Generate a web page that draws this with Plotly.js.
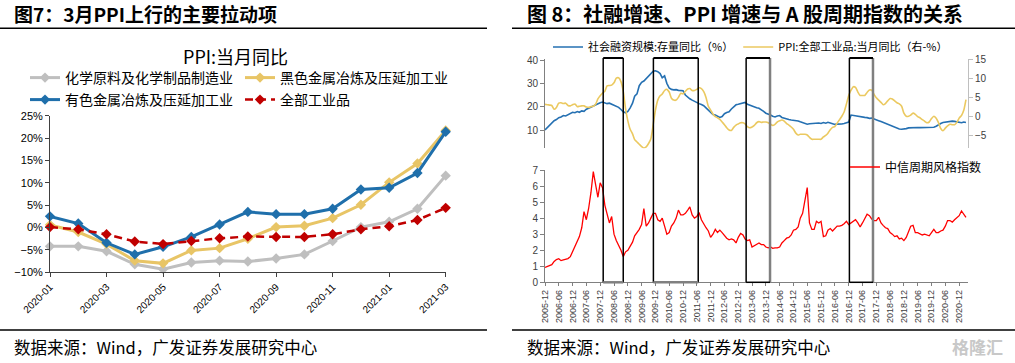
<!DOCTYPE html>
<html><head><meta charset="utf-8">
<script src="https://cdn.plot.ly/plotly-3.0.1.min.js"></script>
<style>html,body{margin:0;padding:0;background:#fff}#chart{width:1015px;height:363px}</style>
</head><body><div id="chart"></div>
<script>
// ---------- Figure 7 data ----------
const ppiMonths = ['2020-01','2020-02','2020-03','2020-04','2020-05','2020-06','2020-07','2020-08','2020-09','2020-10','2020-11','2020-12','2021-01','2021-02','2021-03'];
const leftTickLabels = ['2020-01','2020-03','2020-05','2020-07','2020-09','2020-11','2021-01','2021-03'];
const chemical   = [-4.2,-4.2,-5.3,-8.2,-9.3,-7.8,-7.4,-7.6,-6.9,-6.0,-3.0,0.1,1.3,4.2,11.6];
const ferrous    = [0.6,-1.0,-3.7,-7.4,-8.0,-5.1,-4.6,-2.5,0.1,0.4,2.1,5.1,10.1,14.3,21.7];
const nonferrous = [2.5,0.9,-3.4,-6.0,-4.3,-2.1,0.7,3.5,3.0,3.0,4.2,8.5,8.9,12.2,21.4];
const ppiAll     = [0.1,-0.4,-1.5,-3.1,-3.7,-3.0,-2.4,-2.0,-2.1,-2.1,-1.5,-0.4,0.3,1.7,4.4];

// ---------- Figure 8 data (monthly, 2005-12 .. 2021-03) ----------
const tsfGrowth = [10.0,
 11.0,12.2,13.0,14.0,14.5,15.3,15.6,16.2,16.0,16.6,17.0,17.6,
 17.4,17.9,17.6,18.2,18.0,18.9,19.3,19.8,20.4,20.9,21.4,21.7,
 22.0,21.6,21.3,21.5,21.0,20.6,20.2,19.7,18.8,17.8,17.4,18.0,
 19.5,21.5,24.5,25.5,29.0,30.4,31.0,32.0,33.0,34.2,35.2,35.4,
 35.0,34.2,32.4,33.2,30.0,28.0,27.4,27.2,27.3,27.0,27.0,26.8,
 25.0,24.0,23.4,22.8,22.2,21.8,21.3,20.9,20.4,19.5,18.6,17.8,
 16.6,16.4,16.0,15.4,15.8,17.0,17.5,17.8,19.0,19.8,20.8,21.0,
 21.2,21.6,21.8,21.0,20.6,20.0,19.6,19.5,19.3,18.8,18.0,17.2,
 16.9,16.4,15.9,15.6,16.0,16.2,15.4,15.0,14.6,14.5,14.3,14.2,
 14.0,13.9,13.5,13.1,12.7,12.5,12.7,12.8,12.7,12.9,13.0,12.8,
 13.2,12.9,13.3,13.0,12.6,12.4,12.5,12.4,12.6,12.8,13.2,13.4,
 16.4,16.2,16.0,15.7,15.5,15.6,15.4,15.3,15.0,15.1,14.8,14.6,
 14.0,13.6,13.2,12.8,12.6,12.1,11.7,11.3,10.9,10.4,10.3,10.3,
 10.6,10.9,11.0,10.9,11.0,11.1,11.0,11.0,10.9,10.9,11.0,10.9,
 11.2,11.6,12.3,12.8,13.2,13.4,13.6,13.7,13.8,13.7,13.6,13.3,
 13.1,13.4,13.2];
const ppiYoY = [3.2,
 3.1,3.0,2.9,1.9,2.4,3.5,3.6,3.4,3.5,2.9,2.8,3.1,
 3.3,2.6,2.7,2.8,2.8,2.5,2.4,2.6,2.7,3.2,4.6,5.4,
 6.1,6.6,8.0,8.1,8.2,8.8,10.0,10.1,9.1,6.6,2.0,-1.1,
 -3.3,-4.5,-6.0,-6.6,-7.2,-7.8,-8.2,-7.9,-7.0,-5.8,-2.1,1.7,
 4.3,5.4,5.9,6.8,7.1,6.4,4.8,4.3,4.3,5.0,6.1,5.9,
 6.6,7.2,7.3,6.8,6.8,7.1,7.5,7.3,6.5,5.0,2.7,1.7,
 0.7,0.0,-0.3,-0.7,-1.4,-2.1,-2.9,-3.5,-3.6,-2.8,-2.2,-1.9,
 -1.6,-1.6,-1.9,-2.6,-2.9,-2.7,-2.3,-1.6,-1.3,-1.5,-1.4,-1.4,
 -1.6,-2.0,-2.3,-2.0,-1.4,-1.1,-0.9,-1.2,-1.8,-2.2,-2.7,-3.3,
 -4.3,-4.8,-4.6,-4.6,-4.6,-4.8,-5.4,-5.9,-5.9,-5.9,-5.9,-5.9,
 -5.3,-4.9,-4.3,-3.4,-2.8,-2.6,-1.7,-0.8,0.1,1.2,3.3,5.5,
 6.9,7.8,7.6,6.4,5.5,5.5,5.5,6.3,6.9,6.9,5.8,4.9,
 4.3,3.7,3.1,3.4,4.1,4.7,4.6,4.1,3.6,3.3,2.7,0.9,
 0.1,0.1,0.4,0.9,0.6,0.0,-0.3,-0.8,-1.2,-1.6,-1.4,-0.5,
 0.1,-0.4,-1.5,-3.1,-3.7,-3.0,-2.4,-2.0,-2.1,-2.1,-1.5,-0.4,
 0.3,1.7,4.4];
const citicCycle = [0.93,
 0.98,1.04,1.10,1.30,1.42,1.47,1.35,1.40,1.43,1.48,1.60,1.90,
 2.30,2.60,2.85,3.40,4.40,3.90,4.60,5.60,6.90,6.10,5.30,6.20,
 5.90,4.80,4.20,3.70,4.10,3.00,2.60,2.30,2.00,1.60,1.90,2.00,
 2.30,2.50,2.90,3.10,3.30,3.60,4.60,3.50,3.70,4.00,4.30,4.30,
 3.90,3.80,4.00,3.50,3.00,3.10,3.50,3.70,4.00,4.50,4.20,4.20,
 4.30,4.50,4.70,4.20,4.00,4.10,4.35,3.90,3.60,3.40,3.20,2.80,
 3.00,3.30,3.10,3.25,3.10,2.90,2.75,2.65,2.70,2.65,2.45,2.80,
 3.05,2.95,2.70,2.60,2.65,2.20,2.30,2.40,2.45,2.35,2.35,2.20,
 2.15,2.20,2.12,2.15,2.15,2.20,2.45,2.60,2.75,2.80,2.95,3.25,
 3.30,3.45,4.00,4.30,5.00,5.90,3.70,3.30,3.30,3.80,3.70,3.80,
 2.85,2.90,3.25,3.35,3.20,3.35,3.50,3.50,3.55,3.65,3.80,3.60,
 3.70,3.85,3.90,3.70,3.45,3.70,4.00,4.25,4.15,3.95,3.85,3.85,
 4.05,3.70,3.55,3.40,3.35,3.10,3.00,2.85,2.90,2.70,2.75,2.60,
 2.80,3.20,3.50,3.55,3.10,3.10,3.00,2.95,3.00,2.95,2.90,3.10,
 3.30,3.10,3.10,3.20,3.25,3.50,3.85,3.85,3.75,3.90,4.05,4.15,
 4.45,4.25,4.05];
const rightTickLabels = ['2005-12','2006-06','2006-12','2007-06','2007-12','2008-06','2008-12','2009-06','2009-12','2010-06','2010-12','2011-06','2011-12','2012-06','2012-12','2013-06','2013-12','2014-06','2014-12','2015-06','2015-12','2016-06','2016-12','2017-06','2017-12','2018-06','2018-12','2019-06','2019-12','2020-06','2020-12'];
// highlighted periods (start, end)
const cycleBoxes = [['2008-01-10','2008-10-01'],['2009-11-04','2011-06-20'],['2013-03-15','2014-01-25'],['2016-12-10','2017-10-18']];

const rightMonths = [];
for (let i = 0; i < tsfGrowth.length; i++) {
  const t = 2005*12 + 11 + i; const y = Math.floor(t/12), m = t%12 + 1;
  rightMonths.push(y + '-' + String(m).padStart(2,'0') + '-01');
}

const W = 1015, H = 363;
const px = v => v / W, py = v => 1 - v / H;
const CJK = '"Noto Sans CJK SC", "Noto Sans", sans-serif';
const ARIAL = '"Liberation Sans", Arial, sans-serif';

const traces = [
  {x: ppiMonths, y: chemical, name: '化学原料及化学制品制造业', type:'scatter', mode:'lines+markers', xaxis:'x', yaxis:'y',
   line:{color:'#BFBFBF', width:3}, marker:{symbol:'diamond', size:8, color:'#BFBFBF'}, cliponaxis:false, legend:'legend'},
  {x: ppiMonths, y: ferrous, name: '黑色金属冶炼及压延加工业', type:'scatter', mode:'lines+markers', xaxis:'x', yaxis:'y',
   line:{color:'#E8C566', width:3}, marker:{symbol:'diamond', size:8, color:'#E8C566'}, cliponaxis:false, legend:'legend'},
  {x: ppiMonths, y: nonferrous, name: '有色金属冶炼及压延加工业', type:'scatter', mode:'lines+markers', xaxis:'x', yaxis:'y',
   line:{color:'#1F6FAB', width:3}, marker:{symbol:'diamond', size:8, color:'#1F6FAB'}, cliponaxis:false, legend:'legend2'},
  {x: ppiMonths, y: ppiAll, name: '全部工业品', type:'scatter', mode:'lines+markers', xaxis:'x', yaxis:'y',
   line:{color:'#C00000', width:2.5, dash:'8px,5px'}, marker:{symbol:'diamond', size:8, color:'#C00000'}, cliponaxis:false, legend:'legend2'},

  {x: rightMonths, y: tsfGrowth, name: '社会融资规模:存量同比（%）', type:'scatter', mode:'lines', xaxis:'x2', yaxis:'y2',
   line:{color:'#2570B2', width:1.6}, legend:'legend3'},
  {x: rightMonths, y: ppiYoY, name: 'PPI:全部工业品:当月同比（右-%）', type:'scatter', mode:'lines', xaxis:'x2', yaxis:'y3',
   line:{color:'#EBC960', width:1.6, shape:'spline', smoothing:0.6}, legend:'legend3'},
  {x: rightMonths, y: citicCycle, name: '中信周期风格指数', type:'scatter', mode:'lines', xaxis:'x3', yaxis:'y4',
   line:{color:'#FF0000', width:1.3}, legend:'legend4'}
];

const shapes = [
  {type:'line', xref:'paper', yref:'paper', x0:0, x1:px(487), y0:py(28.3), y1:py(28.3), line:{color:'#000', width:1.5}},
  {type:'line', xref:'paper', yref:'paper', x0:px(512), x1:1, y0:py(28.3), y1:py(28.3), line:{color:'#000', width:1.5}},
  {type:'line', xref:'paper', yref:'paper', x0:0, x1:px(487), y0:py(330), y1:py(330), line:{color:'#000', width:1.5}},
  {type:'line', xref:'paper', yref:'paper', x0:px(512), x1:1, y0:py(330), y1:py(330), line:{color:'#000', width:1.5}}
];
const boxTop = py(58), boxBot = py(282.3);
const rightGray = [false, false, true, true];
cycleBoxes.forEach((b, i) => {
  const g = rightGray[i];
  shapes.push({type:'line', xref:'x3', yref:'paper', x0:b[0], x1:b[0], y0:boxBot, y1:boxTop, line:{color:'#000', width:1.5}});
  shapes.push({type:'line', xref:'x3', yref:'paper', x0:b[1], x1:b[1], y0:boxBot, y1:boxTop, line:{color: g ? '#808080' : '#000', width: g ? 2.5 : 1.5}});
  shapes.push({type:'line', xref:'x3', yref:'paper', x0:b[0], x1:b[1], y0:boxTop, y1:boxTop, line:{color:'#000', width:2}});
  shapes.push({type:'line', xref:'x3', yref:'paper', x0:b[0], x1:b[1], y0:boxBot, y1:boxBot, line:{color: g ? '#000' : '#808080', width: g ? 1.5 : 2.5}});
});

const annotations = [
  {text:'图7：3月PPI上行的主要拉动项', xref:'paper', yref:'paper', x:px(12), y:py(14), xanchor:'left', yanchor:'middle', showarrow:false,
   font:{family:CJK, size:19, color:'#000', weight:700}},
  {text:'图 8：社融增速、PPI 增速与 A 股周期指数的关系', xref:'paper', yref:'paper', x:px(525), y:py(14), xanchor:'left', yanchor:'middle', showarrow:false,
   font:{family:CJK, size:20, color:'#000', weight:700}},
  {text:'数据来源：Wind，广发证券发展研究中心', xref:'paper', yref:'paper', x:px(12), y:py(347), xanchor:'left', yanchor:'middle', showarrow:false,
   font:{family:CJK, size:16.5, color:'#000'}},
  {text:'数据来源：Wind，广发证券发展研究中心', xref:'paper', yref:'paper', x:px(525), y:py(347), xanchor:'left', yanchor:'middle', showarrow:false,
   font:{family:CJK, size:16.5, color:'#000'}},
  {text:'PPI:当月同比', xref:'paper', yref:'paper', x:px(235), y:py(56), xanchor:'center', yanchor:'middle', showarrow:false,
   font:{family:CJK, size:18, color:'#000'}},
  {text:'格隆汇', xref:'paper', yref:'paper', x:px(1005), y:py(346), xanchor:'right', yanchor:'middle', showarrow:false,
   font:{family:CJK, size:17, color:'#C8C8C8', weight:700}}
];

const layout = {
  width: W, height: H, margin:{l:0, r:0, t:0, b:0}, paper_bgcolor:'#fff', plot_bgcolor:'rgba(0,0,0,0)',
  showlegend: true,
  xaxis: {domain:[px(50), px(445.7)], anchor:'y', type:'category', range:[0, ppiMonths.length-1],
    tickvals: leftTickLabels, ticktext: leftTickLabels, tickangle:-45, showgrid:false, zeroline:false,
    showline:true, linecolor:'#404040', linewidth:1, ticks:'outside', ticklen:4, tickcolor:'#404040',
    tickfont:{family:ARIAL, size:10, color:'#000'}},
  yaxis: {domain:[py(272.3), py(115.7)], anchor:'x', range:[-10, 25], dtick:5, ticksuffix:'%', showgrid:false, zeroline:false,
    showline:true, linecolor:'#404040', linewidth:1, ticks:'outside', ticklen:4, tickcolor:'#404040',
    tickfont:{family:ARIAL, size:11, color:'#000'}},

  xaxis2: {domain:[px(545), px(968)], anchor:'y2', type:'date', range:['2005-12-01','2021-03-28'],
    showticklabels:false, showgrid:false, zeroline:false, showline:false, ticks:''},
  yaxis2: {domain:[py(148.3), py(59)], anchor:'x2', range:[2.16, 40.43], tickvals:[10,20,30,40], showgrid:false, zeroline:false,
    showline:true, linecolor:'#808080', ticks:'outside', ticklen:4, tickcolor:'#808080',
    tickfont:{family:ARIAL, size:10, color:'#404040'}},
  yaxis3: {overlaying:'y2', side:'right', anchor:'x2', range:[-8.25, 15], tickvals:[-5,0,5,10,15], showgrid:false, zeroline:false,
    showline:true, linecolor:'#BFBFBF', ticks:'outside', ticklen:4, tickcolor:'#BFBFBF',
    tickfont:{family:ARIAL, size:10, color:'#404040'}},

  xaxis3: {domain:[px(545), px(968)], anchor:'y4', type:'date', range:['2005-12-01','2021-03-28'],
    tickvals: rightTickLabels.map(s => s + '-01'), ticktext: rightTickLabels, tickangle:-90,
    showgrid:false, zeroline:false, showline:true, linecolor:'#808080', ticks:'outside', ticklen:3, tickcolor:'#808080',
    tickfont:{family:ARIAL, size:9, color:'#404040'}},
  yaxis4: {domain:[py(282.3), py(170)], anchor:'x3', range:[0, 7], dtick:1, showgrid:false, zeroline:false,
    showline:true, linecolor:'#808080', ticks:'outside', ticklen:4, tickcolor:'#808080',
    tickfont:{family:ARIAL, size:10, color:'#404040'}},

  legend: {orientation:'h', x:px(25), y:py(78), xanchor:'left', yanchor:'middle', entrywidth:170, entrywidthmode:'pixels',
    font:{family:CJK, size:14, color:'#000'}, bgcolor:'rgba(0,0,0,0)', itemwidth:30},
  legend2: {orientation:'h', x:px(25), y:py(100), xanchor:'left', yanchor:'middle', entrywidth:170, entrywidthmode:'pixels',
    font:{family:CJK, size:14, color:'#000'}, bgcolor:'rgba(0,0,0,0)', itemwidth:30},
  legend3: {orientation:'h', x:px(548), y:py(47), xanchor:'left', yanchor:'middle',
    font:{family:CJK, size:11, color:'#000'}, bgcolor:'rgba(0,0,0,0)', itemwidth:30},
  legend4: {orientation:'h', x:px(845), y:py(167), xanchor:'left', yanchor:'middle',
    font:{family:CJK, size:12, color:'#000'}, bgcolor:'rgba(0,0,0,0)', itemwidth:30},

  shapes: shapes,
  annotations: annotations
};

Plotly.newPlot('chart', traces, layout, {displayModeBar:false, staticPlot:true});
</script></body></html>
